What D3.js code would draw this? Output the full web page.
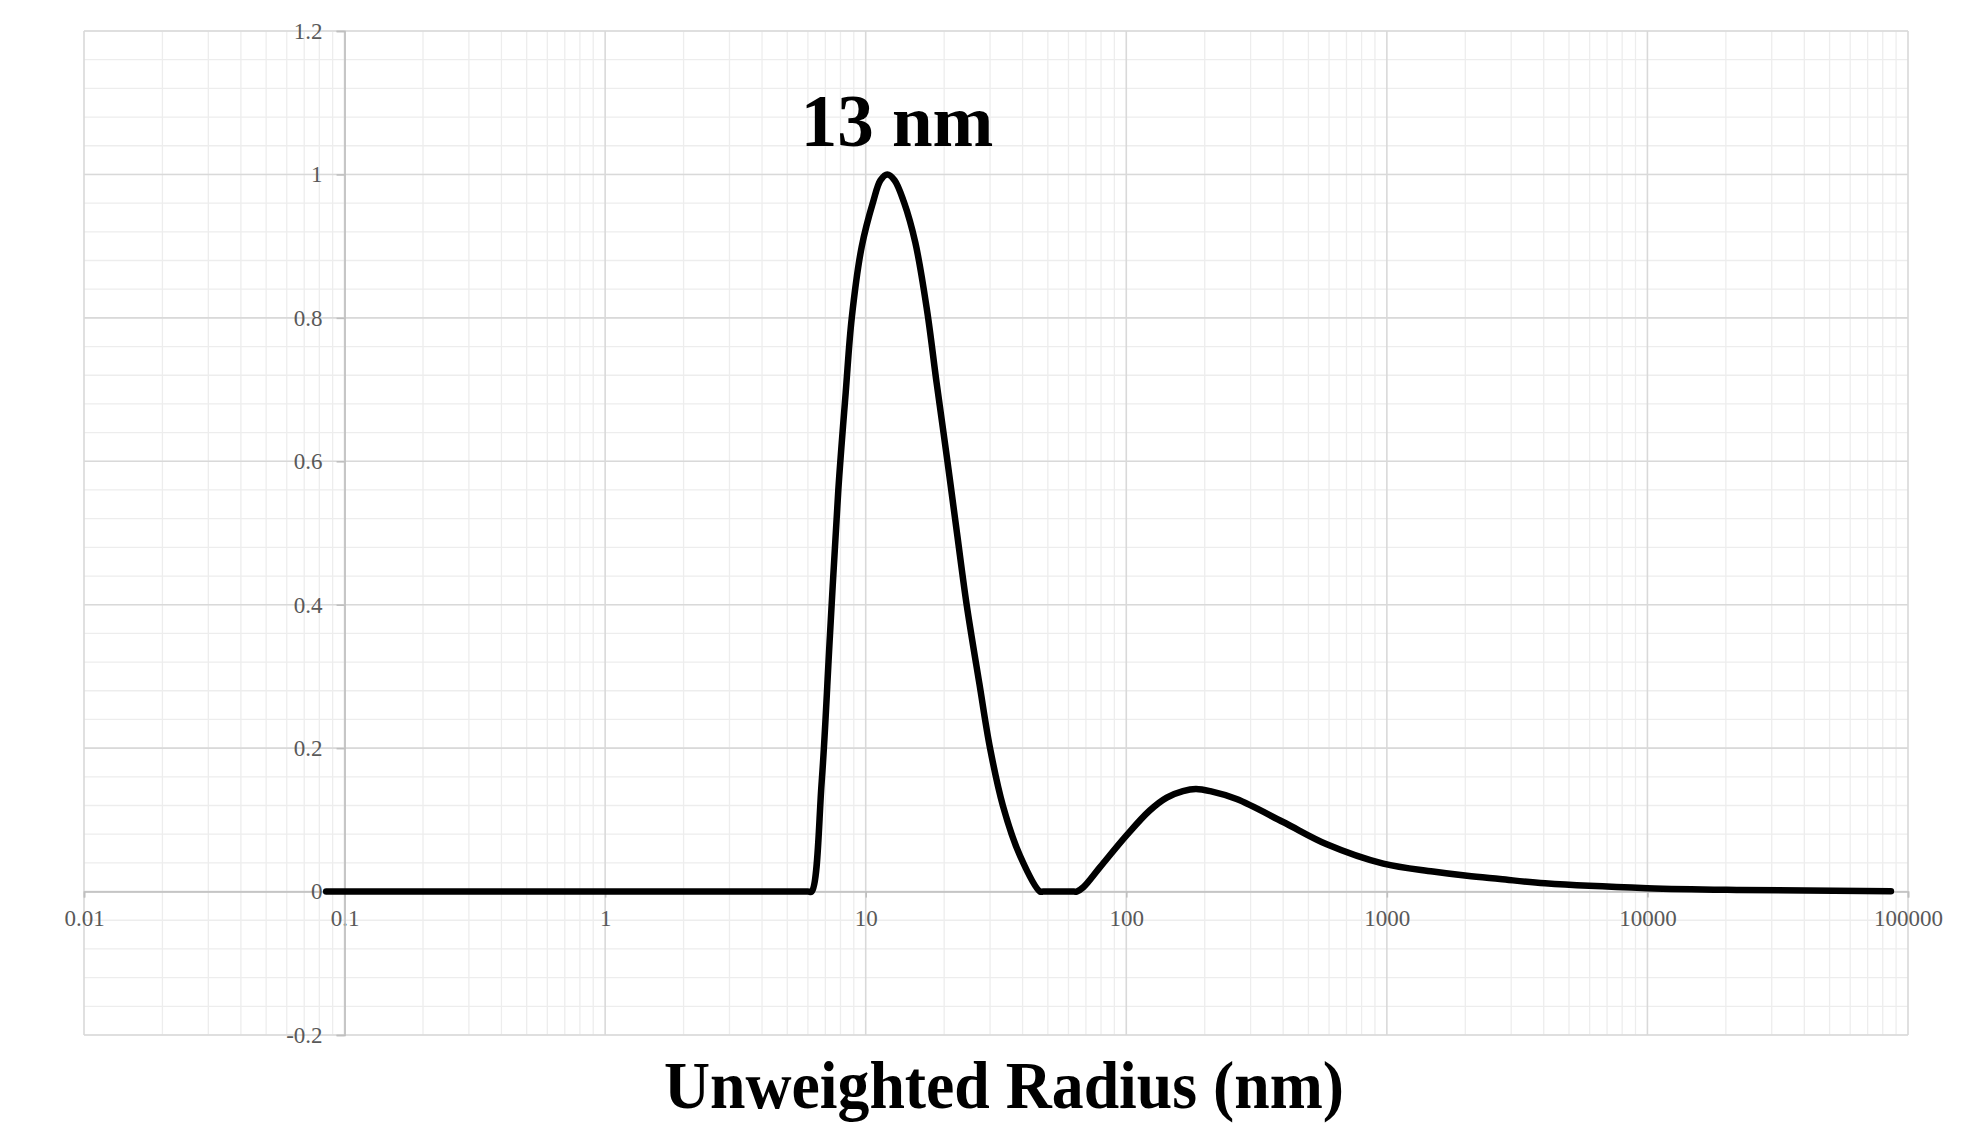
<!DOCTYPE html>
<html>
<head>
<meta charset="utf-8">
<script src="https://cdn.jsdelivr.net/npm/d3@7"></script>
<style>
  body { margin: 0; background: #fff; }
  svg { display: block; }
</style>
</head>
<body>
<svg id="chart"></svg>
<script>
// radius (nm) and normalised intensity
const radius = [0.085, 6.0, 6.2, 6.78, 7.29, 7.85, 8.38, 8.84, 9.65, 10.7, 11.4, 12.1,
  12.9, 14.0, 15.5, 17.2, 18.7, 20.5, 22.4, 24.4, 27.3, 30.0, 33.6, 39.1, 46.7, 48,
  63, 64.5, 68.4, 79.3, 100, 123, 143, 165, 185, 210, 265, 400, 588, 969, 1503, 2031,
  2719, 4046, 10000, 22500, 86000];
const intensity = [0, 0, 0, 0.154, 0.357, 0.56, 0.696, 0.8, 0.899, 0.963, 0.992, 1.0,
  0.992, 0.962, 0.905, 0.81, 0.71, 0.605, 0.5, 0.4, 0.29, 0.2, 0.12, 0.05, 0, 0,
  0, 0, 0.006, 0.034, 0.078, 0.113, 0.131, 0.140, 0.143, 0.140, 0.129, 0.097, 0.066, 0.039, 0.028, 0.022,
  0.0175, 0.0115, 0.0048, 0.0023, 0.0005];

const xDomain = [0.01, 100000];
const yDomain = [-0.2, 1.2];
const xTickValues = [0.01, 0.1, 1, 10, 100, 1000, 10000, 100000];
const yTickValues = [-0.2, 0, 0.2, 0.4, 0.6, 0.8, 1, 1.2];
const peakLabel = '13 nm';
const peakRadius = 12.5;
const xTitle = 'Unweighted Radius (nm)';

const width = 1961;
const height = 1123;
const margin = {top: 31, right: 53, bottom: 88, left: 84};

const svg = d3.select('#chart')
    .attr('width', width)
    .attr('height', height);

const x = d3.scaleLog()
    .domain(xDomain)
    .range([margin.left, width - margin.right]);

const y = d3.scaleLinear()
    .domain(yDomain)
    .range([height - margin.bottom, margin.top]);

const serif = '"Liberation Serif", "Times New Roman", serif';

// minor grid
const minorX = [];
for (let e = -2; e < 5; e++) {
  for (let k = 2; k <= 9; k++) minorX.push(k * Math.pow(10, e));
}
const minorY = d3.range(-0.2, 1.2001, 0.04);

const grid = svg.append('g');
grid.selectAll('.minorX')
    .data(minorX)
    .enter().append('line')
    .attr('x1', (d) => x(d)).attr('x2', (d) => x(d))
    .attr('y1', y(yDomain[0])).attr('y2', y(yDomain[1]))
    .style('stroke', '#ededed').style('stroke-width', 1.3);

grid.selectAll('.minorY')
    .data(minorY)
    .enter().append('line')
    .attr('x1', x(xDomain[0])).attr('x2', x(xDomain[1]))
    .attr('y1', (d) => y(d)).attr('y2', (d) => y(d))
    .style('stroke', '#ededed').style('stroke-width', 1.3);

// major grid
grid.selectAll('.majorX')
    .data(xTickValues)
    .enter().append('line')
    .attr('x1', (d) => x(d)).attr('x2', (d) => x(d))
    .attr('y1', y(yDomain[0])).attr('y2', y(yDomain[1]))
    .style('stroke', '#d9d9d9').style('stroke-width', 1.6);

grid.selectAll('.majorY')
    .data(yTickValues)
    .enter().append('line')
    .attr('x1', x(xDomain[0])).attr('x2', x(xDomain[1]))
    .attr('y1', (d) => y(d)).attr('y2', (d) => y(d))
    .style('stroke', '#d9d9d9').style('stroke-width', 1.6);

// x axis at y = 0
const xAxis = d3.axisBottom(x)
    .tickValues(xTickValues)
    .tickFormat(d3.format('~f'))
    .tickSize(6)
    .tickPadding(12);

const gx = svg.append('g')
    .attr('transform', 'translate(0,' + y(0) + ')')
    .call(xAxis);
gx.select('.domain').style('stroke', '#bfbfbf').style('stroke-width', 1.6);
gx.selectAll('.tick line').style('stroke', '#bfbfbf').style('stroke-width', 1.6);
gx.selectAll('.tick text')
    .style('font-family', serif)
    .style('font-size', '23px')
    .style('fill', '#595959');

// y axis at x = 0.1
const yAxis = d3.axisLeft(y)
    .tickValues(yTickValues)
    .tickFormat((d) => d3.format('~g')(d).replace('\u2212', '-'))
    .tickSize(8)
    .tickPadding(14);

const gy = svg.append('g')
    .attr('transform', 'translate(' + x(0.1) + ',0)')
    .call(yAxis);
gy.select('.domain').style('stroke', '#bfbfbf').style('stroke-width', 1.6);
gy.selectAll('.tick line').style('stroke', '#bfbfbf').style('stroke-width', 1.6);
gy.selectAll('.tick text')
    .style('font-family', serif)
    .style('font-size', '23px')
    .style('fill', '#595959');

// curve
const points = radius.map((r, i) => ({r: r, v: intensity[i]}));
const line = d3.line()
    .x((d) => x(d.r))
    .y((d) => y(d.v))
    .curve(d3.curveCatmullRom.alpha(0.5));

svg.append('path')
    .datum(points)
    .attr('d', line)
    .style('fill', 'none')
    .style('stroke', '#000')
    .style('stroke-width', 6.5)
    .style('stroke-linecap', 'round')
    .style('stroke-linejoin', 'round');

// peak label
svg.append('text')
    .attr('x', x(peakRadius) + 6)
    .attr('y', y(1) - 28)
    .attr('text-anchor', 'middle')
    .style('font-family', serif)
    .style('font-weight', 'bold')
    .style('font-size', '73px')
    .text(peakLabel);

// x title
svg.append('text')
    .attr('x', 1004)
    .attr('y', 1108)
    .attr('text-anchor', 'middle')
    .attr('textLength', 680)
    .attr('lengthAdjust', 'spacingAndGlyphs')
    .style('font-family', serif)
    .style('font-weight', 'bold')
    .style('font-size', '68px')
    .text(xTitle);
</script>
</body>
</html>
